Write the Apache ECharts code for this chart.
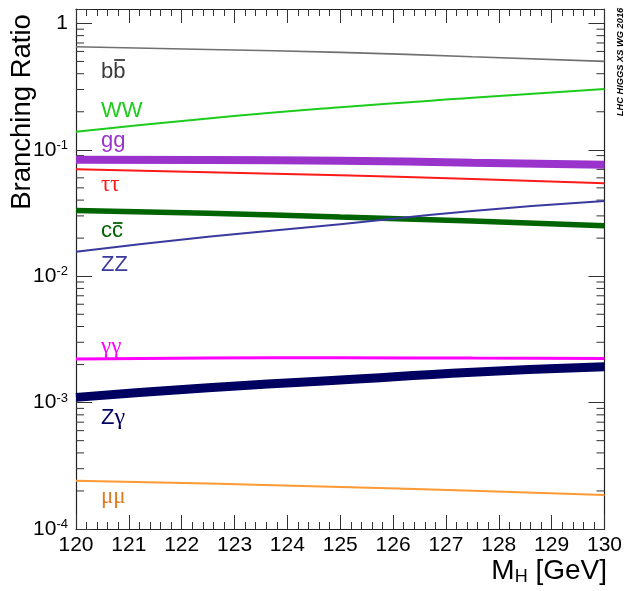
<!DOCTYPE html>
<html><head><meta charset="utf-8">
<script src="https://cdn.jsdelivr.net/npm/echarts@6/dist/echarts.min.js"></script>
<style>html,body{margin:0;padding:0;background:#fff}#c{width:625px;height:591px}</style>
</head><body><div id="c"></div>
<script>
// ---- data ----
const masses = [120, 122.5, 125, 127.5, 130];
const brBB   = [0.653, 0.622, 0.590, 0.545, 0.501];
const brWW   = [0.139, 0.177, 0.217, 0.258, 0.303];
const brGG   = [0.0835, 0.0830, 0.0820, 0.0790, 0.0762];
const brTT   = [0.0702, 0.0664, 0.0630, 0.0588, 0.0543];
const brCC   = [0.0331, 0.0315, 0.0294, 0.0273, 0.0251];
const brZZ   = [0.0156, 0.0205, 0.0258, 0.0328, 0.0393];
const brAA   = [0.00221, 0.00225, 0.00226, 0.00225, 0.00223];
const brZA   = [0.00110, 0.00131, 0.00151, 0.00174, 0.00192];
const brMM   = [0.000241, 0.000229, 0.000215, 0.000201, 0.000186];
const channelNames = ['bb', 'WW', 'gg', 'ττ', 'cc', 'ZZ', 'γγ', 'Zγ', 'μμ'];
const yTickExponents = [-4, -3, -2, -1, 0];
const xTickLabels = [120,121,122,123,124,125,126,127,128,129,130];

// ---- styles ----
const chans = [
  {v: brBB, color: '#707070', w: 1.6, lab: '#3a3a3a', y: 72, txt: 'bb', greek:false},
  {v: brWW, color: '#1ccc1c', w: 2,   lab: '#1ccc1c', y: 111, txt: 'WW', greek:false},
  {v: brGG, color: '#9933cc', w: 8,   lab: '#9933cc', y: 141, txt: 'gg', greek:false},
  {v: brTT, color: '#ff1a1a', w: 2,   lab: '#ff1a1a', y: 185, txt: 'ττ', greek:true},
  {v: brCC, color: '#006400', w: 5.5, lab: '#006400', y: 231, txt: 'cc', greek:false},
  {v: brZZ, color: '#3a3a9e', w: 2,   lab: '#3a3a9e', y: 265, txt: 'ZZ', greek:false},
  {v: brAA, color: '#ff00ff', w: 3,   lab: '#ff00ff', y: 347, txt: 'γγ', greek:true},
  {v: brZA, color: '#000060', w: 9,   lab: '#000060', y: 418, txt: 'Z{g|γ}', greek:false},
  {v: brMM, color: '#ff9933', w: 2,   lab: '#e07a22', y: 497, txt: 'μμ', greek:true}
];

const minorVals = [];
for (let e = -4; e < 0; e++) for (let m = 2; m <= 9; m++) minorVals.push([120, m * Math.pow(10, e)]);

const series = chans.map((c, i) => ({
  name: channelNames[i], type: 'line', xAxisIndex: 0, yAxisIndex: 0,
  showSymbol: false, symbol: 'none', smooth: true, silent: true,
  lineStyle: {color: c.color, width: c.w},
  data: masses.map((m, k) => [m, c.v[k]])
}));
series.push({
  type: 'custom', xAxisIndex: 0, yAxisIndex: 0, silent: true, clip: false,
  encode: {x: 0, y: 1},
  data: minorVals,
  renderItem: function (params, api) {
    const cs = params.coordSys;
    const y = api.coord([api.value(0), api.value(1)])[1];
    const st = {stroke: '#333', lineWidth: 1};
    return {type: 'group', children: [
      {type: 'line', shape: {x1: cs.x, y1: y, x2: cs.x + 8, y2: y}, style: st},
      {type: 'line', shape: {x1: cs.x + cs.width - 8, y1: y, x2: cs.x + cs.width, y2: y}, style: st}
    ]};
  }
});

const FONT = 'Liberation Sans';
function yFmt(v) {
  const l = Math.log10(v), e = Math.round(l);
  if (Math.abs(l - e) > 1e-6 || yTickExponents.indexOf(e) < 0) return '';
  if (e === 0) return '{b|1}';
  return '{b|10}{s|' + e + '}';
}
const yLabel = {
  formatter: yFmt, margin: 8,
  rich: {
    b: {fontFamily: FONT, fontSize: 21, color: '#000'},
    s: {fontFamily: FONT, fontSize: 13, color: '#000', padding: [0, 0, 9, 0]}
  }
};
const axisLine = {show: true, lineStyle: {color: '#222', width: 1.2}};

const option = {
  animation: false,
  backgroundColor: '#fff',
  grid: {left: 76, right: 19, top: 9, bottom: 62},
  xAxis: [
    {type: 'value', position: 'bottom', min: 120, max: 130, interval: 1,
     axisLine: axisLine, splitLine: {show: false},
     axisTick: {show: true, inside: true, length: 14, lineStyle: {color: '#333'}},
     minorTick: {show: true, splitNumber: 5, length: 7, lineStyle: {color: '#333'}},
     axisLabel: {fontFamily: FONT, fontSize: 21, color: '#000', margin: 6,
       formatter: v => (xTickLabels.indexOf(v) >= 0 ? String(v) : '')}},
    {type: 'value', position: 'top', min: 120, max: 130, interval: 1,
     axisLine: axisLine, splitLine: {show: false},
     axisTick: {show: true, inside: true, length: 14, lineStyle: {color: '#333'}},
     minorTick: {show: true, splitNumber: 5, length: 7, lineStyle: {color: '#333'}},
     axisLabel: {show: false}}
  ],
  yAxis: [
    {type: 'log', logBase: 10, position: 'left', min: 1e-4, max: 1.3, interval: 1,
     axisLine: axisLine, splitLine: {show: false},
     axisTick: {show: true, inside: true, length: 16, lineStyle: {color: '#333'}},
     minorTick: {show: false},
     axisLabel: yLabel},
    {type: 'log', logBase: 10, position: 'right', min: 1e-4, max: 1.3, interval: 1,
     axisLine: axisLine, splitLine: {show: false},
     axisTick: {show: true, inside: true, length: 16, lineStyle: {color: '#333'}},
     minorTick: {show: false},
     axisLabel: {show: false}}
  ],
  series: series
};

const chart = echarts.init(document.getElementById('c'), null, {renderer: 'canvas'});
chart.setOption(option);

// ---- text annotations ----
const LABFONT = 22;
const graphics = [];
chans.forEach((c, i) => {
  graphics.push({
    type: 'text', x: 101, y: c.y, silent: true,
    style: {
      text: c.txt, fill: c.lab,
      font: c.greek ? '23px "Liberation Serif"' : LABFONT + 'px "Liberation Sans"',
      verticalAlign: 'middle', align: 'left',
      rich: {
        g: {fontFamily: 'Liberation Serif', fontSize: 24, color: c.lab}
      }
    }
  });
});
graphics.push({
  type: 'text', x: 22, y: 112, rotation: Math.PI / 2, silent: true,
  style: {text: 'Branching Ratio', font: '27.5px "Liberation Sans"', fill: '#000', align: 'center', verticalAlign: 'middle'}
});
graphics.push({
  type: 'text', x: 607, y: 571, silent: true,
  style: {
    text: '{a|M}{s|H}{a| [GeV]}', align: 'right', verticalAlign: 'middle',
    rich: {
      a: {fontFamily: FONT, fontSize: 28, color: '#000'},
      s: {fontFamily: FONT, fontSize: 18, color: '#000', padding: [13, 0, 0, 0]}
    }
  }
});
graphics.push({
  type: 'text', x: 620, y: 62, rotation: Math.PI / 2, silent: true,
  style: {text: 'LHC HIGGS XS WG 2016', font: 'italic bold 9.3px "Liberation Sans"', fill: '#000', align: 'center', verticalAlign: 'middle'}
});

// overbars for b-bar and c-bar: short lines above the second letter
const ctx = document.createElement('canvas').getContext('2d');
ctx.font = LABFONT + 'px "Liberation Sans"';
[0, 4].forEach(idx => {
  const c = chans[idx];
  const w = ctx.measureText(c.txt[0]).width;
  const top = idx === 0 ? c.y - 12 : c.y - 8;
  graphics.push({
    type: 'line', silent: true,
    shape: {x1: 101 + w + 1, y1: top, x2: 101 + 2 * w - 0.5, y2: top},
    style: {stroke: c.lab, lineWidth: 1.8}
  });
});
chart.setOption({graphic: graphics});
</script>
</body></html>
